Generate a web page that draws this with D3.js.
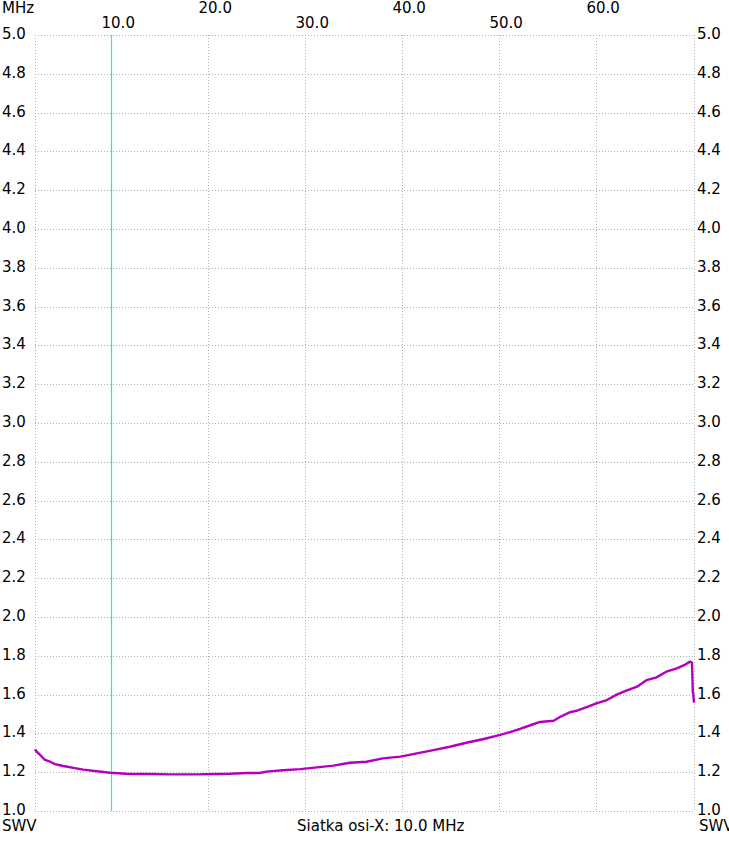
<!DOCTYPE html>
<html>
<head>
<meta charset="utf-8">
<script src="https://cdn.jsdelivr.net/npm/d3@7/dist/d3.min.js"></script>
<style>
html,body{margin:0;padding:0;background:#fff;}
svg{display:block;}
text{font-family:"DejaVu Sans",Verdana,sans-serif;font-size:15px;fill:#000;}
</style>
</head>
<body>
<div id="chart"></div>
<script>
// ---- data ----
const freqMHz = [2.13,2.3,2.65,3.16,3.68,4.20,5.05,6.08,7.11,8.49,9.87,11.6,14.0,16.05,18.8,20.9,22.2,24.0,25.3,26.0,27.7,29.5,31.2,32.9,34.6,36.3,38.0,39.8,41.5,43.2,44.9,46.6,48.4,50.1,51.1,52.2,53.2,54.2,55.6,56.3,57.3,58.0,59.0,60.0,61.1,62.1,63.1,64.2,65.2,66.2,67.3,68.3,69.1,69.66,69.87,69.94,70.0,70.07];
const swr     = [1.318,1.306,1.289,1.263,1.254,1.242,1.232,1.222,1.213,1.205,1.197,1.192,1.191,1.189,1.189,1.191,1.192,1.196,1.196,1.203,1.210,1.216,1.225,1.234,1.249,1.254,1.271,1.280,1.297,1.314,1.331,1.352,1.371,1.392,1.407,1.424,1.442,1.459,1.465,1.486,1.510,1.517,1.535,1.555,1.572,1.600,1.620,1.641,1.675,1.689,1.720,1.735,1.753,1.770,1.764,1.620,1.600,1.558];
const xTicks = [10,20,30,40,50,60];
const yTicks = [1.0,1.2,1.4,1.6,1.8,2.0,2.2,2.4,2.6,2.8,3.0,3.2,3.4,3.6,3.8,4.0,4.2,4.4,4.6,4.8,5.0];
const xDomain = [2.13, 70.07];
const yDomain = [1.0, 5.0];
const markerMHz = 10;
const xUnit = "MHz";
const yUnit = "SWV";
const footer = "Siatka osi-X: 10.0 MHz";

// ---- layout ----
const W = 729, H = 846;
const L = 35, R = 694, T = 35, B = 811;

const svg = d3.select("#chart").append("svg").attr("width", W).attr("height", H);
const x = d3.scaleLinear().domain(xDomain).range([L, R]);
const y = d3.scaleLinear().domain(yDomain).range([B, T]);

const gridColor = "#b0b0b0";
const grid = svg.append("g").attr("shape-rendering","crispEdges");

// horizontal grid
grid.selectAll("line.h").data(yTicks).join("line")
  .attr("x1", L).attr("x2", R)
  .attr("y1", d => Math.round(y(d)) + 0.5).attr("y2", d => Math.round(y(d)) + 0.5)
  .attr("stroke", gridColor).attr("stroke-dasharray","1,2");

// vertical grid incl. borders
const vLines = [xDomain[0], ...xTicks.filter(t => t !== markerMHz), xDomain[1]];
grid.selectAll("line.v").data(vLines).join("line")
  .attr("x1", d => Math.round(x(d)) + 0.5).attr("x2", d => Math.round(x(d)) + 0.5)
  .attr("y1", T).attr("y2", B)
  .attr("stroke", gridColor).attr("stroke-dasharray","1,2");

// marker line at 10 MHz
svg.append("line")
  .attr("x1", Math.round(x(markerMHz)) + 0.5).attr("x2", Math.round(x(markerMHz)) + 0.5)
  .attr("y1", T).attr("y2", B)
  .attr("stroke", "#22e6f0").attr("stroke-width", 1.2);

// y labels left/right
svg.selectAll("text.yl").data(yTicks).join("text")
  .attr("x", 2).attr("y", d => y(d) + 4)
  .text(d => d.toFixed(1));
svg.selectAll("text.yr").data(yTicks).join("text")
  .attr("x", 697).attr("y", d => y(d) + 4)
  .text(d => d.toFixed(1));

// x labels top, staggered
svg.selectAll("text.xt").data(xTicks).join("text")
  .attr("x", d => x(d) - 9.8)
  .attr("y", (d, i) => i % 2 === 0 ? 27.5 : 12.5)
  .text(d => d.toFixed(1));

svg.append("text").attr("x", 2).attr("y", 12.5).text(xUnit);
svg.append("text").attr("x", 2).attr("y", 830.5).text(yUnit);
svg.append("text").attr("x", 699).attr("y", 830.5).text(yUnit);
svg.append("text").attr("x", 297).attr("y", 830.5).text(footer);

// curve
const line = d3.line().x(d => x(d[0])).y(d => y(d[1])).curve(d3.curveLinear);
svg.append("path")
  .datum(freqMHz.map((f, i) => [f, swr[i]]))
  .attr("d", line)
  .attr("fill", "none")
  .attr("stroke", "#b400be")
  .attr("stroke-width", 2.4)
  .attr("stroke-linejoin", "round");
</script>
</body>
</html>
